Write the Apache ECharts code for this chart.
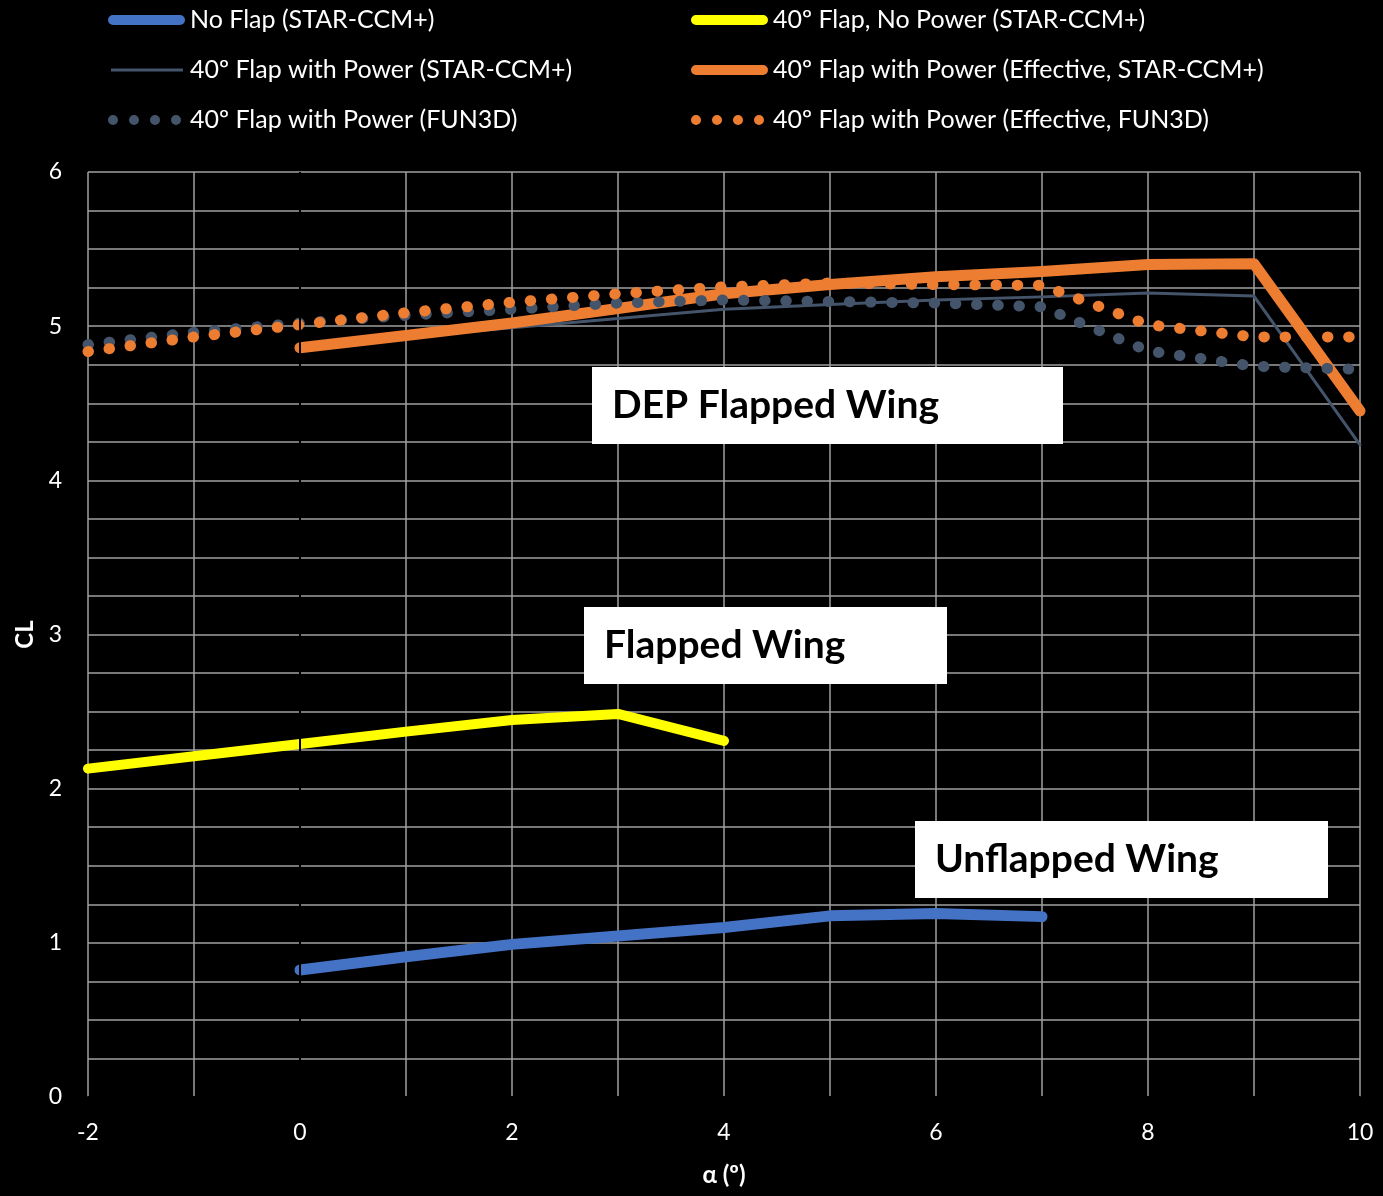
<!DOCTYPE html>
<html>
<head>
<meta charset="utf-8">
<script src="https://cdn.jsdelivr.net/npm/echarts@6/dist/echarts.min.js"></script>
<style>
  html, body { margin: 0; padding: 0; background: #000; }
  #chart { width: 1383px; height: 1196px; }
</style>
</head>
<body>
<div id="chart"></div>
<script>
// Lift coefficient vs angle of attack
const seriesNames = [
  'No Flap (STAR-CCM+)',
  '40º Flap, No Power (STAR-CCM+)',
  '40º Flap with Power (STAR-CCM+)',
  '40º Flap with Power (Effective, STAR-CCM+)',
  '40º Flap with Power (FUN3D)',
  '40º Flap with Power (Effective, FUN3D)'
];

const alphaNoFlap = [0, 1, 2, 3, 4, 5, 6, 7];
const clNoFlap = [0.824, 0.91, 0.99, 1.045, 1.10, 1.175, 1.19, 1.17];

const alphaFlapNoPower = [-2, -1, 0, 1, 2, 3, 4];
const clFlapNoPower = [2.13, 2.21, 2.29, 2.37, 2.445, 2.485, 2.31];

const alphaStar = [0, 1, 2, 3, 4, 5, 6, 7, 8, 9, 10];
const clStarPower = [4.86, 4.93, 4.99, 5.05, 5.11, 5.14, 5.17, 5.19, 5.215, 5.195, 4.23];
const clStarEffective = [4.86, 4.94, 5.02, 5.115, 5.21, 5.27, 5.32, 5.355, 5.40, 5.405, 4.45];

const alphaFun3d = [-2, -1, 0, 1, 2, 3, 4, 5, 6, 7, 8, 9, 10];
const clFun3dPower = [4.88, 4.96, 5.02, 5.07, 5.11, 5.15, 5.17, 5.16, 5.15, 5.125, 4.84, 4.74, 4.72];
const clFun3dEffective = [4.835, 4.93, 5.01, 5.087, 5.155, 5.21, 5.255, 5.28, 5.27, 5.265, 5.01, 4.93, 4.93];

const xTicks = { min: -2, max: 10, step: 2 };
const yTicks = { min: 0, max: 6, step: 1 };

const labels = [
  { text: 'DEP Flapped Wing', left: 592, top: 367, width: 471, height: 77 },
  { text: 'Flapped Wing', left: 584, top: 607, width: 363, height: 77 },
  { text: 'Unflapped Wing', left: 915, top: 821, width: 413, height: 77 }
];

const FONT = 'Lato, "Noto Sans", sans-serif';
const GRID_COLOR = '#a0a0a0';

// legend icon shapes, drawn in a 77 x 10 box (tiny corner specks pin the box size)
const BOX = 'M0,0 L0.01,0 L0,0.01 Z M77,10 L76.99,10 L77,9.99 Z ';
const ICON_THICK = 'path://' + BOX + 'M5,0 L72,0 A5,5 0 0 1 72,10 L5,10 A5,5 0 0 1 5,0 Z';
const ICON_THIN = 'path://' + BOX + 'M3,3.6 L75,3.6 L75,6.4 L3,6.4 Z';
const ICON_DOTS = 'path://' + BOX + [5, 26, 47, 68].map(c =>
  `M${c - 5},5 A5,5 0 1 1 ${c + 5},5 A5,5 0 1 1 ${c - 5},5 Z`).join(' ');

function pairs(xs, ys) { return xs.map((x, i) => [x, ys[i]]); }

function solid(name, xs, ys, color, width) {
  return {
    name, type: 'line', data: pairs(xs, ys),
    symbol: 'none', showSymbol: false, smooth: false,
    lineStyle: { color, width, cap: 'round', join: 'round' },
    itemStyle: { color },
    emphasis: { disabled: true }
  };
}

function dotted(name, xs, ys, color) {
  return {
    name, type: 'line', data: pairs(xs, ys),
    symbol: 'none', showSymbol: false,
    lineStyle: { color, width: 11, type: [0.5, 20.7], cap: 'round', join: 'round' },
    itemStyle: { color },
    emphasis: { disabled: true }
  };
}

const chart = echarts.init(document.getElementById('chart'), null, { renderer: 'canvas' });

const series = [
  solid(seriesNames[0], alphaNoFlap, clNoFlap, '#4472C4', 11),
  solid(seriesNames[1], alphaFlapNoPower, clFlapNoPower, '#FFFF00', 10),
  solid(seriesNames[2], alphaStar, clStarPower, '#44546A', 3),
  solid(seriesNames[3], alphaStar, clStarEffective, '#ED7D31', 11),
  dotted(seriesNames[4], alphaFun3d, clFun3dPower, '#44546A'),
  dotted(seriesNames[5], alphaFun3d, clFun3dEffective, '#ED7D31')
];

// vertical axis crossing at α = 0
series[0].markLine = {
  silent: true, symbol: 'none', label: { show: false },
  lineStyle: { color: '#000', width: 2, type: 'solid' },
  data: [{ xAxis: 0 }]
};

const legendCommon = {
  orient: 'vertical', top: 5, padding: 0,
  itemWidth: 77, itemHeight: 10, itemGap: 20,
  symbolKeepAspect: false,
  textStyle: { color: '#fff', fontSize: 25, fontFamily: FONT, lineHeight: 30 },
  selectedMode: false
};

const legendIcons = [ICON_THICK, ICON_THICK, ICON_THIN, ICON_THICK, ICON_DOTS, ICON_DOTS];
const legendColors = ['#4472C4', '#FFFF00', '#44546A', '#ED7D31', '#44546A', '#ED7D31'];
function legendItem(i) {
  return { name: seriesNames[i], icon: legendIcons[i], itemStyle: { color: legendColors[i], borderWidth: 0 } };
}

const graphics = [];
labels.forEach(l => {
  graphics.push({
    type: 'group', left: l.left, top: l.top, z: 100,
    children: [
      { type: 'rect', z: 100, shape: { x: 0, y: 0, width: l.width, height: l.height }, style: { fill: '#fff' } },
      { type: 'text', z: 101, x: 20, y: l.height / 2,
        style: { text: l.text, fill: '#000', font: 'bold 39px ' + FONT, verticalAlign: 'middle', align: 'left' } }
    ]
  });
});

chart.setOption({
  backgroundColor: '#000',
  animation: false,
  grid: { left: 88, right: 23, top: 172, bottom: 99, containLabel: false, outerBoundsMode: 'none' },
  legend: [
    Object.assign({}, legendCommon, { left: 108, data: [0, 2, 4].map(legendItem) }),
    Object.assign({}, legendCommon, { left: 691, data: [1, 3, 5].map(legendItem) })
  ],
  xAxis: {
    type: 'value', min: xTicks.min, max: xTicks.max, interval: xTicks.step,
    name: 'α (º)', nameLocation: 'middle', nameGap: 66,
    nameTextStyle: { color: '#fff', fontSize: 24, fontWeight: 'bold', fontFamily: FONT },
    axisLine: { show: true, onZero: false, lineStyle: { color: '#000', width: 2 } },
    axisTick: { show: false },
    axisLabel: { color: '#fff', fontSize: 23, fontFamily: FONT, margin: 24 },
    splitLine: { show: true, lineStyle: { color: GRID_COLOR, width: 1.5 } },
    minorTick: { show: false, splitNumber: 2 },
    minorSplitLine: { show: true, lineStyle: { color: GRID_COLOR, width: 1.5 } }
  },
  yAxis: {
    type: 'value', min: yTicks.min, max: yTicks.max, interval: yTicks.step,
    name: 'CL', nameLocation: 'middle', nameGap: 51, nameRotate: 90,
    nameTextStyle: { color: '#fff', fontSize: 24, fontWeight: 'bold', fontFamily: FONT },
    axisLine: { show: false },
    axisTick: { show: false },
    axisLabel: { color: '#fff', fontSize: 23, fontFamily: FONT, margin: 26 },
    splitLine: { show: true, lineStyle: { color: GRID_COLOR, width: 1.5 } },
    minorTick: { show: false, splitNumber: 4 },
    minorSplitLine: { show: true, lineStyle: { color: GRID_COLOR, width: 1.5 } }
  },
  series,
  graphic: graphics
});
</script>
</body>
</html>
